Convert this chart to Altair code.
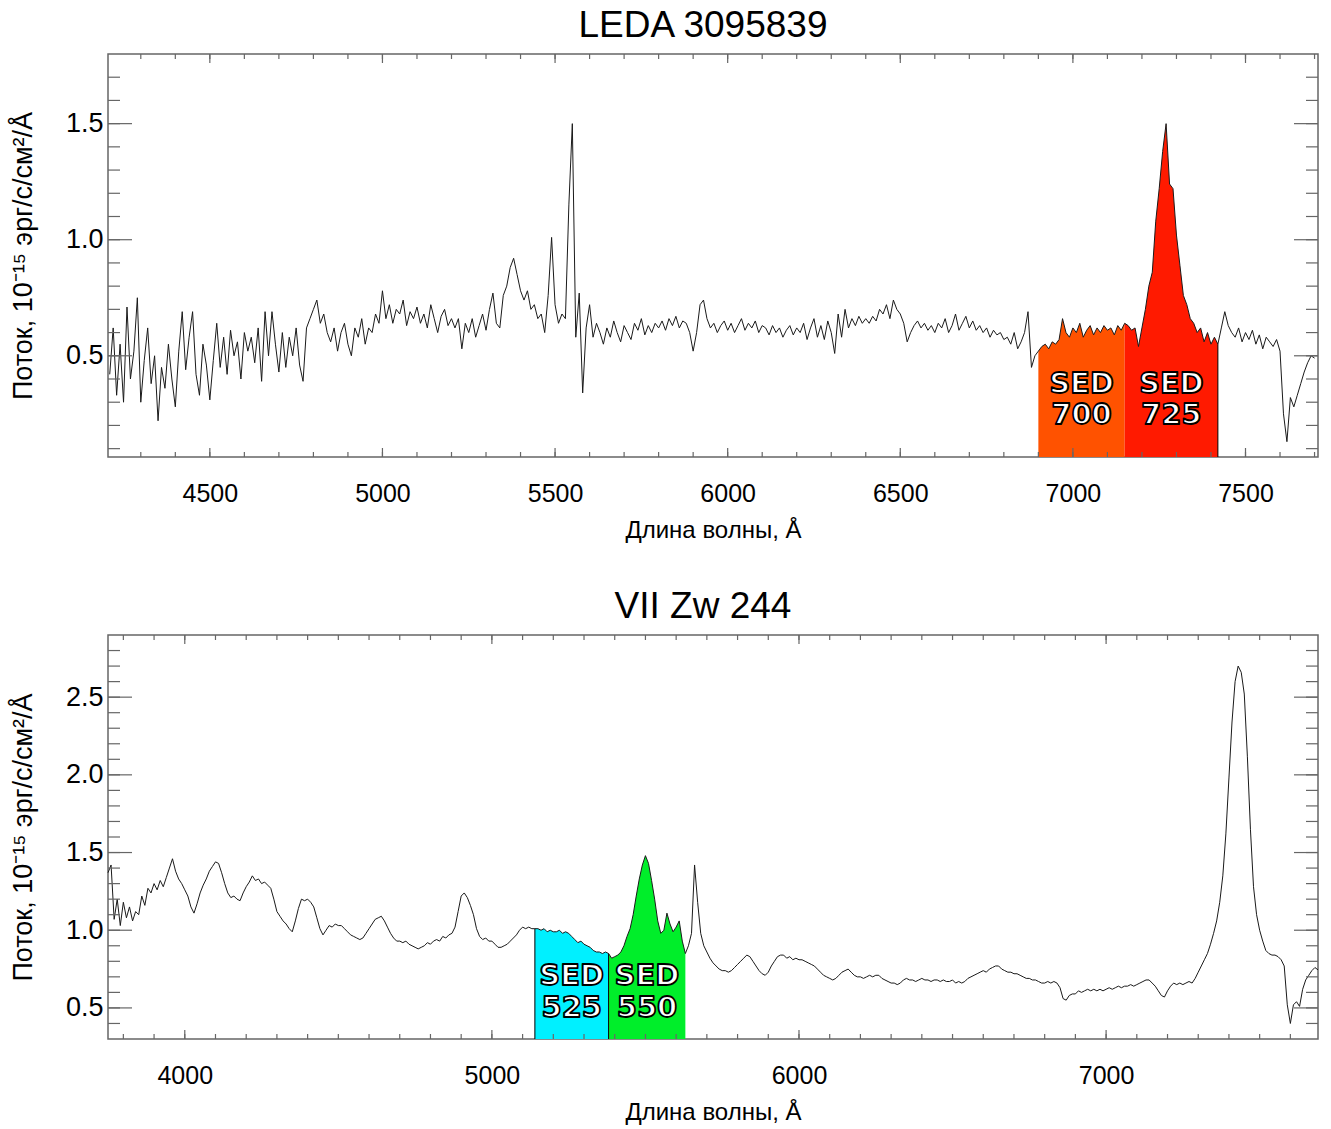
import altair as alt
import pandas as pd

# ---------------- LEDA 3095839 (top panel) ----------------
leda_wl = list(range(4210, 7701, 10))
leda_flux = [
    0.42, 0.62, 0.33, 0.55, 0.30, 0.71, 0.40, 0.52, 0.75, 0.30,   # 4210-4300
    0.48, 0.62, 0.38, 0.50, 0.22, 0.45, 0.36, 0.55, 0.40, 0.28,   # 4310-4400
    0.52, 0.69, 0.44, 0.58, 0.69, 0.42, 0.33, 0.55, 0.46, 0.31,   # 4410-4500
    0.48, 0.64, 0.45, 0.58, 0.42, 0.61, 0.50, 0.56, 0.40, 0.60,   # 4510-4600
    0.52, 0.58, 0.47, 0.62, 0.39, 0.69, 0.50, 0.69, 0.55, 0.43,   # 4610-4700
    0.60, 0.45, 0.58, 0.50, 0.62, 0.46, 0.39, 0.62, 0.66, 0.70,   # 4710-4800
    0.74, 0.64, 0.68, 0.60, 0.56, 0.62, 0.52, 0.60, 0.64, 0.55,   # 4810-4900
    0.50, 0.62, 0.58, 0.66, 0.55, 0.62, 0.60, 0.68, 0.64, 0.78,   # 4910-5000
    0.66, 0.72, 0.64, 0.70, 0.68, 0.74, 0.63, 0.69, 0.66, 0.71,   # 5010-5100
    0.64, 0.68, 0.62, 0.72, 0.66, 0.60, 0.67, 0.70, 0.63, 0.66,   # 5110-5200
    0.62, 0.66, 0.53, 0.64, 0.60, 0.66, 0.58, 0.63, 0.68, 0.61,   # 5210-5300
    0.70, 0.77, 0.64, 0.62, 0.76, 0.80, 0.88, 0.92, 0.85, 0.78,   # 5310-5400
    0.74, 0.78, 0.70, 0.72, 0.66, 0.68, 0.60, 0.76, 1.01, 0.72,   # 5410-5500
    0.64, 0.68, 0.66, 1.15, 1.50, 0.58, 0.77, 0.34, 0.62, 0.72,   # 5510-5600
    0.58, 0.64, 0.60, 0.55, 0.62, 0.58, 0.65, 0.60, 0.56, 0.63,   # 5610-5700
    0.60, 0.57, 0.64, 0.61, 0.66, 0.59, 0.63, 0.60, 0.64, 0.62,   # 5710-5800
    0.65, 0.61, 0.66, 0.63, 0.67, 0.62, 0.65, 0.64, 0.60, 0.52,   # 5810-5900
    0.60, 0.72, 0.74, 0.66, 0.62, 0.64, 0.60, 0.63, 0.65, 0.61,   # 5910-6000
    0.64, 0.60, 0.63, 0.66, 0.61, 0.64, 0.62, 0.65, 0.60, 0.63,   # 6010-6100
    0.62, 0.59, 0.63, 0.60, 0.62, 0.58, 0.61, 0.63, 0.59, 0.62,   # 6110-6200
    0.60, 0.64, 0.57, 0.62, 0.66, 0.58, 0.63, 0.57, 0.65, 0.60,   # 6210-6300
    0.51, 0.68, 0.58, 0.70, 0.62, 0.66, 0.63, 0.67, 0.64, 0.66,   # 6310-6400
    0.64, 0.67, 0.65, 0.70, 0.68, 0.72, 0.66, 0.74, 0.70, 0.68,   # 6410-6500
    0.64, 0.56, 0.60, 0.63, 0.65, 0.62, 0.64, 0.61, 0.63, 0.60,   # 6510-6600
    0.64, 0.62, 0.66, 0.60, 0.63, 0.68, 0.61, 0.64, 0.67, 0.62,   # 6610-6700
    0.65, 0.61, 0.63, 0.60, 0.62, 0.58, 0.61, 0.59, 0.60, 0.57,   # 6710-6800
    0.58, 0.55, 0.60, 0.53, 0.56, 0.60, 0.69, 0.45, 0.50, 0.52,   # 6810-6900
    0.54, 0.55, 0.53, 0.56, 0.55, 0.57, 0.66, 0.60, 0.58, 0.62,   # 6910-7000
    0.60, 0.64, 0.58, 0.61, 0.63, 0.59, 0.62, 0.60, 0.63, 0.61,   # 7010-7100
    0.62, 0.59, 0.63, 0.61, 0.64, 0.63, 0.61, 0.62, 0.54, 0.62,   # 7110-7200
    0.70, 0.80, 0.86, 1.08, 1.22, 1.38, 1.50, 1.24, 1.22, 1.02,   # 7210-7300
    0.89, 0.76, 0.72, 0.66, 0.64, 0.60, 0.62, 0.56, 0.60, 0.55,   # 7310-7400
    0.58, 0.55, 0.62, 0.69, 0.63, 0.60, 0.58, 0.62, 0.56, 0.60,   # 7410-7500
    0.57, 0.61, 0.55, 0.59, 0.53, 0.58, 0.56, 0.54, 0.57, 0.52,   # 7510-7600
    0.25, 0.13, 0.32, 0.28, 0.33, 0.38, 0.43, 0.47, 0.50, 0.49,   # 7610-7700
]
leda_bands = ["700", "725"]
leda_band_lo = [6900, 7150]
leda_band_hi = [7150, 7420]
leda_band_colors = ["#FF5200", "#FF1A00"]
leda_edge_lines = [7420]

# ---------------- VII Zw 244 (bottom panel) ----------------
vii_wl = list(range(3750, 7691, 10))
vii_flux = [
    1.37, 1.42, 1.07, 1.20, 1.03, 1.18, 1.08, 1.15, 1.06, 1.12,   # 3750-3840
    1.10, 1.22, 1.16, 1.27, 1.24, 1.30, 1.26, 1.32, 1.28, 1.34,   # 3850-3940
    1.40, 1.46, 1.38, 1.33, 1.30, 1.26, 1.22, 1.15, 1.11, 1.17,   # 3950-4040
    1.24, 1.29, 1.33, 1.38, 1.41, 1.44, 1.43, 1.37, 1.30, 1.24,   # 4050-4140
    1.21, 1.22, 1.20, 1.19, 1.24, 1.28, 1.31, 1.35, 1.32, 1.33,   # 4150-4240
    1.30, 1.31, 1.29, 1.27, 1.20, 1.12, 1.09, 1.06, 1.04, 1.01,   # 4250-4340
    0.99, 1.06, 1.14, 1.20, 1.19, 1.20, 1.18, 1.15, 1.08, 1.01,   # 4350-4440
    0.97, 1.00, 1.03, 1.02, 1.04, 1.03, 1.03, 1.01, 0.99, 0.97,   # 4450-4540
    0.96, 0.95, 0.94, 0.95, 0.98, 1.01, 1.04, 1.07, 1.08, 1.09,   # 4550-4640
    1.06, 1.02, 0.98, 0.95, 0.93, 0.93, 0.92, 0.93, 0.91, 0.90,   # 4650-4740
    0.89, 0.88, 0.89, 0.90, 0.92, 0.91, 0.93, 0.94, 0.93, 0.96,   # 4750-4840
    0.95, 0.97, 0.98, 1.02, 1.12, 1.22, 1.24, 1.21, 1.16, 1.10,   # 4850-4940
    1.01, 0.96, 0.94, 0.95, 0.93, 0.93, 0.91, 0.89, 0.89, 0.90,   # 4950-5040
    0.91, 0.93, 0.95, 0.97, 1.00, 1.02, 1.01, 1.02, 1.01, 1.01,   # 5050-5140
    1.01, 1.00, 1.01, 0.99, 1.00, 0.99, 0.99, 1.00, 0.98, 0.99,   # 5150-5240
    0.98, 0.96, 0.94, 0.92, 0.93, 0.91, 0.90, 0.89, 0.87, 0.86,   # 5250-5340
    0.86, 0.85, 0.86, 0.85, 0.82, 0.83, 0.84, 0.86, 0.90, 0.96,   # 5350-5440
    1.01, 1.10, 1.22, 1.33, 1.42, 1.48, 1.43, 1.32, 1.20, 1.06,   # 5450-5540
    0.98, 1.00, 1.11, 1.04, 0.99, 1.02, 1.06, 0.93, 0.85, 0.90,   # 5550-5640
    0.98, 1.42, 1.18, 0.98, 0.90, 0.86, 0.82, 0.79, 0.77, 0.75,   # 5650-5740
    0.74, 0.74, 0.73, 0.74, 0.76, 0.78, 0.80, 0.82, 0.84, 0.83,   # 5750-5840
    0.80, 0.77, 0.74, 0.72, 0.71, 0.73, 0.77, 0.80, 0.83, 0.84,   # 5850-5940
    0.84, 0.82, 0.83, 0.81, 0.82, 0.81, 0.81, 0.80, 0.79, 0.78,   # 5950-6040
    0.77, 0.75, 0.73, 0.71, 0.70, 0.69, 0.68, 0.69, 0.71, 0.73,   # 6050-6140
    0.74, 0.75, 0.73, 0.71, 0.70, 0.70, 0.69, 0.70, 0.71, 0.70,   # 6150-6240
    0.71, 0.71, 0.69, 0.68, 0.67, 0.66, 0.66, 0.65, 0.66, 0.68,   # 6250-6340
    0.69, 0.68, 0.68, 0.67, 0.68, 0.69, 0.68, 0.68, 0.67, 0.68,   # 6350-6440
    0.68, 0.67, 0.68, 0.67, 0.67, 0.68, 0.66, 0.67, 0.66, 0.67,   # 6450-6540
    0.69, 0.70, 0.71, 0.72, 0.73, 0.74, 0.73, 0.75, 0.76, 0.77,   # 6550-6640
    0.77, 0.75, 0.74, 0.73, 0.73, 0.72, 0.72, 0.71, 0.70, 0.69,   # 6650-6740
    0.69, 0.68, 0.68, 0.67, 0.66, 0.66, 0.67, 0.66, 0.67, 0.66,   # 6750-6840
    0.63, 0.56, 0.55, 0.58, 0.59, 0.59, 0.61, 0.60, 0.61, 0.62,   # 6850-6940
    0.61, 0.62, 0.61, 0.62, 0.61, 0.62, 0.63, 0.62, 0.63, 0.64,   # 6950-7040
    0.63, 0.64, 0.64, 0.65, 0.64, 0.65, 0.66, 0.67, 0.68, 0.68,   # 7050-7140
    0.66, 0.64, 0.61, 0.58, 0.57, 0.61, 0.64, 0.66, 0.65, 0.66,   # 7150-7240
    0.65, 0.66, 0.67, 0.66, 0.69, 0.73, 0.77, 0.81, 0.85, 0.91,   # 7250-7340
    0.98, 1.06, 1.18, 1.35, 1.62, 1.98, 2.34, 2.60, 2.70, 2.66,   # 7350-7440
    2.52, 2.12, 1.65, 1.28, 1.10, 1.00, 0.93, 0.87, 0.85, 0.84,   # 7450-7540
    0.84, 0.83, 0.81, 0.77, 0.52, 0.40, 0.52, 0.54, 0.51, 0.62,   # 7550-7640
    0.68, 0.71, 0.74, 0.76, 0.745,                                # 7650-7690
]
vii_bands = ["525", "550"]
vii_band_lo = [5140, 5380]
vii_band_hi = [5380, 5630]
vii_band_colors = ["#00F0FF", "#00EE2A"]
vii_edge_lines = [5140, 5380]

assert len(leda_wl) == len(leda_flux)
assert len(vii_wl) == len(vii_flux)

FONT = "Liberation Sans"
FRAME = "#666666"
W = 1210


def panel(title, wl, flux, bands, lo, hi, colors, edges, xdom, ydom, H,
          x_major, x_minor, y_major, y_minor, label_y, line_h):
    spec = pd.DataFrame({"wl": wl, "flux": flux})
    xs = alt.Scale(domain=xdom, nice=False, zero=False)
    ys = alt.Scale(domain=ydom, nice=False, zero=False)
    xaxis = alt.Axis(values=x_major, format="d", ticks=False, domain=False, grid=False,
                     labelFontSize=25, labelPadding=24, titleFontSize=24,
                     titlePadding=12, titleFontWeight="normal", labelColor="black",
                     titleColor="black", labelFont=FONT, titleFont=FONT,
                     title="Длина волны, Å")
    yaxis = alt.Axis(values=y_major, format=".1f", ticks=False, domain=False, grid=False,
                     labelFontSize=27, labelPadding=5, titleFontSize=27,
                     titlePadding=28, titleFontWeight="normal", labelColor="black",
                     titleColor="black", labelFont=FONT, titleFont=FONT,
                     title="Поток, 10⁻¹⁵ эрг/с/см²/Å")
    X = lambda: alt.X("wl:Q", scale=xs, axis=xaxis)
    Y = lambda: alt.Y("flux:Q", scale=ys, axis=yaxis, stack=None)

    rows = []
    for b, a, z in zip(bands, lo, hi):
        sub = spec[(spec.wl >= a) & (spec.wl <= z)]
        for w_, f_ in zip(sub.wl, sub.flux):
            rows.append({"wl": w_, "flux": f_, "band": b})
    area_df = pd.DataFrame(rows)

    area = alt.Chart(area_df).mark_area(opacity=1, interpolate="linear").encode(
        x=X(), y=Y(), y2=alt.value(H),
        color=alt.Color("band:N", scale=alt.Scale(domain=bands, range=colors), legend=None),
    )

    edge_df = spec[spec.wl.isin(edges)]
    edge = alt.Chart(edge_df).mark_rule(color="black", strokeWidth=1).encode(
        x=X(), y=Y(), y2=alt.value(H),
    )

    line = alt.Chart(spec).mark_line(color="#1a1a1a", strokeWidth=1, interpolate="linear").encode(
        x=X(), y=Y(),
    )

    layers = [area, edge, line]

    def xticks(vals, L):
        d = pd.DataFrame({"wl": vals})
        b = alt.Chart(d).mark_rule(color=FRAME, strokeWidth=1.2).encode(
            x=X(), y=alt.value(H), y2=alt.value(H - L))
        t = alt.Chart(d).mark_rule(color=FRAME, strokeWidth=1.2).encode(
            x=X(), y=alt.value(0), y2=alt.value(L))
        return [b, t]

    def yticks(vals, L):
        d = pd.DataFrame({"flux": vals})
        l = alt.Chart(d).mark_rule(color=FRAME, strokeWidth=1.2).encode(
            y=Y(), x=alt.value(0), x2=alt.value(L))
        r = alt.Chart(d).mark_rule(color=FRAME, strokeWidth=1.2).encode(
            y=Y(), x=alt.value(W), x2=alt.value(W - L))
        return [l, r]

    layers += xticks(x_minor, 5) + xticks(x_major, 9)
    layers += yticks(y_minor, 12) + yticks(y_major, 24)

    lab_df = pd.DataFrame({
        "wl": [(a + z) / 2 for a, z in zip(lo, hi)],
        "txt": ["SED\n" + b for b in bands],
    })
    labels = alt.Chart(lab_df).mark_text(
        fontSize=29, fontWeight="bold", font="DejaVu Sans", lineBreak="\n", lineHeight=line_h,
        align="center", baseline="middle", fill="white", stroke="black",
        strokeWidth=1.8, strokeJoin="round",
    ).encode(x=X(), y=alt.value(label_y), text="txt:N")
    layers += [labels]

    return alt.layer(*layers).properties(
        width=W, height=H,
        title=alt.TitleParams(title, fontSize=37, font=FONT, fontWeight="normal",
                              anchor="middle", frame="group", dx=-10, offset=8, color="black"),
    )


top = panel("LEDA 3095839", leda_wl, leda_flux, leda_bands, leda_band_lo, leda_band_hi,
            leda_band_colors, leda_edge_lines, [4205, 7710], [0.064, 1.8], 403,
            list(range(4500, 7501, 500)), list(range(4300, 7701, 100)),
            [0.5, 1.0, 1.5], [round(0.1 * i, 1) for i in range(1, 18)],
            330, 31)

bottom = panel("VII Zw 244", vii_wl, vii_flux, vii_bands, vii_band_lo, vii_band_hi,
               vii_band_colors, vii_edge_lines, [3750, 7690], [0.3, 2.9], 404,
               list(range(4000, 7001, 1000)), list(range(3800, 7601, 100)),
               [0.5, 1.0, 1.5, 2.0, 2.5], [round(0.1 * i, 1) for i in range(4, 29)],
               341, 32)

chart = alt.vconcat(top, bottom, spacing=44).resolve_scale(color="independent").properties(
    padding={"left": 8, "top": 6, "right": 0, "bottom": 5},
    background="white",
).configure_view(stroke=FRAME, strokeWidth=1.5)

chart.save("out.html", embed_options={"renderer": "svg", "actions": False})
